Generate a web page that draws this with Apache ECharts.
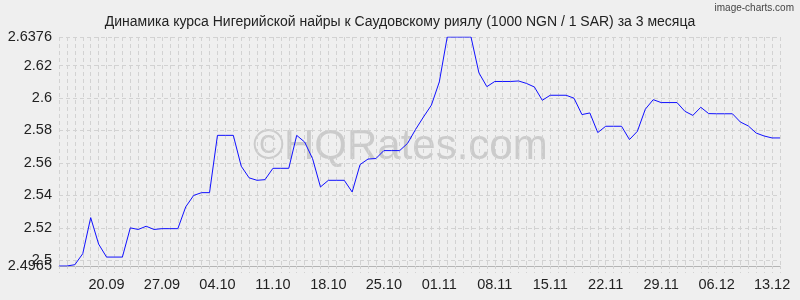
<!DOCTYPE html>
<html>
<head>
<meta charset="utf-8">
<script src="https://cdn.jsdelivr.net/npm/echarts@6/dist/echarts.min.js"></script>
<style>html,body{margin:0;padding:0;background:#efefef;}#c{width:800px;height:300px;}</style>
</head>
<body>
<div id="c"></div>
<script>
const titleText = 'Динамика курса Нигерийской найры к Саудовскому риялу (1000 NGN / 1 SAR) за 3 месяца';
const yTickValues = [2.5, 2.52, 2.54, 2.56, 2.58, 2.6, 2.62, 2.6376];
const yMinLabel = [2.4965];
const yMin = 2.4965;
const yMax = 2.6376;
// daily dates 14.09 .. 14.12
const dates = [
 '14.09','15.09','16.09','17.09','18.09','19.09','20.09','21.09','22.09','23.09','24.09','25.09','26.09','27.09','28.09','29.09','30.09',
 '01.10','02.10','03.10','04.10','05.10','06.10','07.10','08.10','09.10','10.10','11.10','12.10','13.10','14.10','15.10','16.10','17.10','18.10','19.10','20.10','21.10','22.10','23.10','24.10','25.10','26.10','27.10','28.10','29.10','30.10','31.10',
 '01.11','02.11','03.11','04.11','05.11','06.11','07.11','08.11','09.11','10.11','11.11','12.11','13.11','14.11','15.11','16.11','17.11','18.11','19.11','20.11','21.11','22.11','23.11','24.11','25.11','26.11','27.11','28.11','29.11','30.11',
 '01.12','02.12','03.12','04.12','05.12','06.12','07.12','08.12','09.12','10.12','11.12','12.12','13.12','14.12'
];
const rates = [
 2.4965,2.4965,2.4973,2.5041,2.5263,2.5100,2.5020,2.5020,2.5020,2.5200,
 2.5190,2.5210,2.5190,2.5195,2.5195,2.5195,2.5330,2.5400,2.5417,2.5417,
 2.5770,2.5770,2.5770,2.5580,2.5508,2.5493,2.5497,2.5567,2.5567,2.5567,
 2.5770,2.5729,2.5627,2.5452,2.5493,2.5493,2.5493,2.5421,2.5590,2.5624,
 2.5627,2.5676,2.5676,2.5676,2.5721,2.5806,2.5883,2.5956,2.6099,2.6376,
 2.6376,2.6376,2.6376,2.6155,2.6070,2.6102,2.6102,2.6102,2.6105,2.6090,
 2.6068,2.5986,2.6017,2.6017,2.6017,2.5999,2.5898,2.5908,2.5787,2.5826,
 2.5826,2.5826,2.5744,2.5795,2.5931,2.5990,2.5972,2.5972,2.5972,2.5918,
 2.5893,2.5943,2.5904,2.5903,2.5903,2.5903,2.5852,2.5828,2.5784,2.5766,
 2.5754,2.5754
];
const FONT = '"Liberation Sans", Arial, sans-serif';
const chart = echarts.init(document.getElementById('c'), null, {renderer: 'canvas'});
const gridColor = '#d2d2d2';
const yLabelStyle = {fontFamily: FONT, fontSize: 14.5, color: '#222', margin: 7,
  showMinLabel: true, showMaxLabel: true, hideOverlap: false, formatter: (v) => String(v)};
chart.setOption({
  backgroundColor: '#efefef',
  animation: false,
  title: {
    text: titleText, left: 'center', top: 10,
    textStyle: {fontFamily: FONT, fontSize: 14, fontWeight: 'normal', color: '#222'}
  },
  graphic: [
    {type: 'text', right: 6, top: 3, style: {text: 'image-charts.com', fontFamily: FONT, fontSize: 10, fill: '#444'}},
    {type: 'text', left: 253, top: 126, z: 0, silent: true,
     style: {text: '©HQRates.com', fontFamily: FONT, fontSize: 42, fill: '#cbcbcb'}}
  ],
  grid: {left: 59, right: 20, top: 37, height: 229},
  xAxis: {
    type: 'category', data: dates, boundaryGap: false,
    axisLine: {show: true, lineStyle: {color: '#b4b4b4', width: 1}},
    axisTick: {show: true, interval: 0, length: 7, lineStyle: {color: gridColor, type: [3, 3]}},
    axisLabel: {
      interval: (idx) => idx >= 6 && (idx - 6) % 7 === 0,
      fontFamily: FONT, fontSize: 14.5, color: '#222', margin: 11
    },
    splitLine: {show: true, interval: 0, lineStyle: {color: gridColor, type: [4, 3], width: 1}}
  },
  yAxis: [{
    type: 'value', min: yMin, max: yMax, position: 'left',
    axisLine: {show: false},
    axisTick: {show: false, customValues: yTickValues},
    axisLabel: Object.assign({customValues: yTickValues}, yLabelStyle),
    splitLine: {show: true, lineStyle: {color: gridColor, type: [4, 3], width: 1}}
  }, {
    type: 'value', min: yMin, max: yMax, position: 'left', alignTicks: false,
    axisLine: {show: false},
    axisTick: {show: false, customValues: yMinLabel},
    axisLabel: Object.assign({customValues: yMinLabel}, yLabelStyle),
    splitLine: {show: false}
  }],
  series: [{
    type: 'line', data: rates, symbol: 'none', z: 5, yAxisIndex: 0,
    lineStyle: {color: '#1010ff', width: 1}
  }]
});
</script>
</body>
</html>
